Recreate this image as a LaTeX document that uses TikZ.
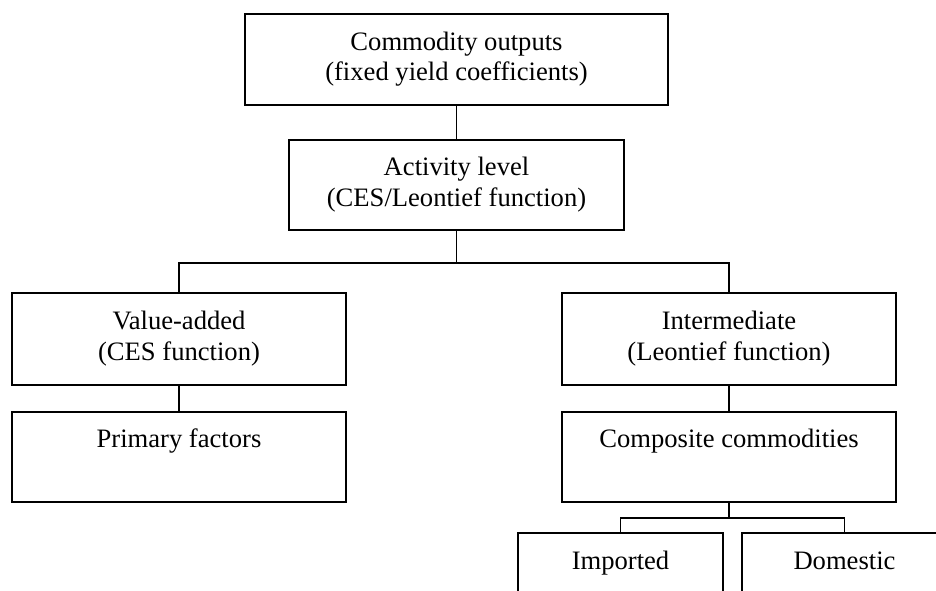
\documentclass[tikz,border=0pt]{standalone}
\usepackage{fontspec}
\setmainfont{Liberation Serif}
\begin{document}
\begin{tikzpicture}[x=1pt,y=-1pt,
  box/.style={draw, line width=1.7pt, align=center, inner sep=0pt,
    font=\fontsize{26.6}{30.6}\selectfont},
  link/.style={line width=1.7pt}]
\useasboundingbox (0,0) rectangle (936,591);
\clip (0,0) rectangle (936,591);
\node[box, minimum width=423pt, minimum height=91pt] (top) at (456.5,59.5) {\strut Commodity outputs\\(fixed yield coefficients)\strut};
\node[box, minimum width=335pt, minimum height=90pt] (act) at (456.5,185) {\strut Activity level\\(CES/Leontief function)\strut};
\node[box, minimum width=334pt, minimum height=92pt] (va) at (179,339) {\strut Value-added\\(CES function)\strut};
\node[box, minimum width=334pt, minimum height=90pt] (pf) at (179,457) {\strut Primary factors\\\strut};
\node[box, minimum width=334pt, minimum height=92pt] (int) at (729,339) {\strut Intermediate\\(Leontief function)\strut};
\node[box, minimum width=334pt, minimum height=90pt] (cc) at (729,457) {\strut Composite commodities\\\strut};
\node[box, minimum width=205pt, minimum height=92pt] (imp) at (620.5,579) {\strut Imported\\\strut};
\node[box, minimum width=205pt, minimum height=92pt] (dom) at (844.5,579) {\strut Domestic\\\strut};
\draw[link] (top.south) -- (act.north);
\coordinate (j1) at ([yshift=-32pt]act.south);
\draw[link] (act.south) -- (j1);
\draw[link] (j1) -| (va.north);
\draw[link] (j1) -| (int.north);
\draw[link] (va.south) -- (pf.north);
\draw[link] (int.south) -- (cc.north);
\coordinate (j2) at ([yshift=-15pt]cc.south);
\draw[link] (cc.south) -- (j2);
\draw[link] (j2) -| (imp.north);
\draw[link] (j2) -| (dom.north);
\end{tikzpicture}
\end{document}
